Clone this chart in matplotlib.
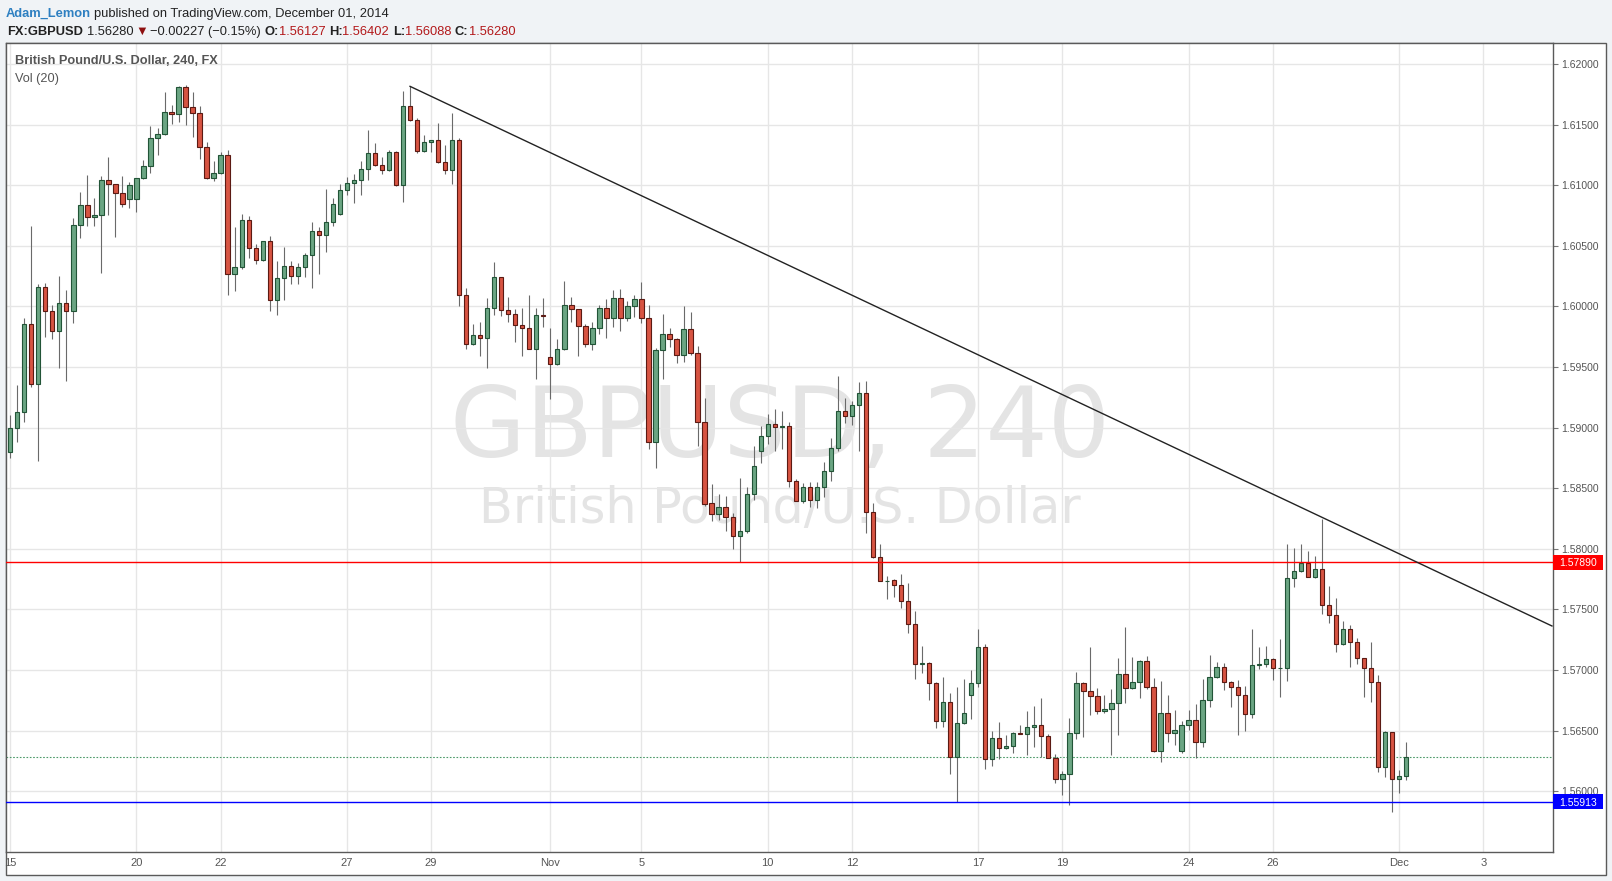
import matplotlib
matplotlib.use('Agg')
import matplotlib.pyplot as plt
from matplotlib.patches import Rectangle
from matplotlib.transforms import blended_transform_factory
import numpy as np

W, H = 1612, 881

# GBPUSD 4h candles, Oct 15 - Dec 1 2014
opens = [
    1.58802, 1.58994, 1.59126, 1.59852, 1.59357, 1.60157, 1.59959, 1.59794, 1.60025, 1.59959,
    1.60669, 1.60834, 1.60735, 1.60754, 1.61040, 1.61007, 1.60933, 1.60883, 1.60883, 1.61057,
    1.61156, 1.61387, 1.61420, 1.61601, 1.61585, 1.61807, 1.61643, 1.61593, 1.61313, 1.61057,
    1.61098, 1.61246, 1.60265, 1.60322, 1.60710, 1.60479, 1.60380, 1.60537, 1.60050, 1.60232,
    1.60331, 1.60248, 1.60322, 1.60421, 1.60619, 1.60586, 1.60694, 1.60760, 1.60958, 1.61015,
    1.61040, 1.61131, 1.61263, 1.61164, 1.61123, 1.61271, 1.60999, 1.61651, 1.61541, 1.61279,
    1.61354, 1.61370, 1.61189, 1.61123, 1.61370, 1.60091, 1.59693, 1.59767, 1.59742, 1.59984,
    1.60240, 1.59967, 1.59934, 1.59843, 1.59819, 1.59651, 1.59926, 1.59579, 1.59522, 1.59645,
    1.60008, 1.59975, 1.59835, 1.59687, 1.59819, 1.59984, 1.59901, 1.60066, 1.59901, 1.60000,
    1.60058, 1.59901, 1.58878, 1.59637, 1.59769, 1.59728, 1.59596, 1.59810, 1.59612, 1.59043,
    1.58375, 1.58284, 1.58342, 1.58259, 1.58103, 1.58144, 1.58449, 1.58804, 1.58928, 1.59029,
    1.59002, 1.59010, 1.58556, 1.58391, 1.58507, 1.58400, 1.58507, 1.58639, 1.58829, 1.59134,
    1.59093, 1.59183, 1.59282, 1.58301, 1.57929, 1.57732, 1.57743, 1.57699, 1.57567, 1.57377,
    1.57053, 1.57061, 1.56890, 1.56577, 1.56734, 1.56285, 1.56560, 1.56791, 1.56890, 1.57188,
    1.56263, 1.56436, 1.56354, 1.56370, 1.56477, 1.56472, 1.56527, 1.56543, 1.56453, 1.56277,
    1.56098, 1.56139, 1.56477, 1.56890, 1.56824, 1.56788, 1.56659, 1.56675, 1.56725, 1.56964,
    1.56849, 1.56898, 1.57071, 1.56857, 1.56334, 1.56642, 1.56477, 1.56329, 1.56543, 1.56585,
    1.56403, 1.56750, 1.56939, 1.57022, 1.56898, 1.56857, 1.56791, 1.56634, 1.57038, 1.57047,
    1.57088, 1.57014, 1.57016, 1.57756, 1.57814, 1.57880, 1.57765, 1.57830, 1.57533, 1.57451,
    1.57212, 1.57335, 1.57228, 1.57096, 1.57014, 1.56898, 1.56197, 1.56490, 1.56098, 1.56127,
]
highs = [
    1.59104, 1.59352, 1.59907, 1.60663, 1.60185, 1.60193, 1.60009, 1.60251, 1.60135, 1.60729,
    1.60944, 1.61084, 1.60894, 1.61076, 1.61233, 1.61007, 1.61076, 1.61026, 1.61060, 1.61208,
    1.61488, 1.61472, 1.61769, 1.61662, 1.61818, 1.61824, 1.61769, 1.61653, 1.61356, 1.61200,
    1.61274, 1.61290, 1.60658, 1.60763, 1.60749, 1.60515, 1.60540, 1.60581, 1.60375, 1.60490,
    1.60375, 1.60358, 1.60441, 1.60696, 1.60653, 1.60969, 1.60894, 1.61007, 1.61065, 1.61093,
    1.61200, 1.61455, 1.61348, 1.61230, 1.61290, 1.61282, 1.61777, 1.61816, 1.61552, 1.61411,
    1.61375, 1.61513, 1.61329, 1.61596, 1.61387, 1.60149, 1.59855, 1.59871, 1.60072, 1.60364,
    1.60245, 1.60077, 1.59975, 1.59987, 1.60094, 1.59987, 1.60066, 1.59821, 1.59728, 1.60209,
    1.60077, 1.59980, 1.59855, 1.59871, 1.60011, 1.60061, 1.60135, 1.60143, 1.60041, 1.60094,
    1.60201, 1.60011, 1.59654, 1.59937, 1.59819, 1.59736, 1.60003, 1.59953, 1.59670, 1.59241,
    1.58534, 1.58452, 1.58436, 1.58293, 1.58584, 1.58510, 1.58845, 1.59010, 1.59112, 1.59153,
    1.59137, 1.59046, 1.58573, 1.58540, 1.58548, 1.58548, 1.58713, 1.58911, 1.59425, 1.59241,
    1.59216, 1.59373, 1.59382, 1.58375, 1.58040, 1.57776, 1.57751, 1.57792, 1.57718, 1.57484,
    1.57198, 1.57069, 1.56901, 1.56943, 1.56811, 1.56860, 1.56926, 1.57000, 1.57341, 1.57212,
    1.56500, 1.56568, 1.56461, 1.56491, 1.56546, 1.56662, 1.56703, 1.56769, 1.56470, 1.56304,
    1.56167, 1.56604, 1.56983, 1.56904, 1.57190, 1.56849, 1.56791, 1.56843, 1.57096, 1.57355,
    1.57107, 1.57083, 1.57115, 1.56931, 1.56909, 1.56791, 1.56667, 1.56579, 1.56667, 1.56720,
    1.56923, 1.57124, 1.57066, 1.57058, 1.56907, 1.56915, 1.56865, 1.57338, 1.57190, 1.57198,
    1.57096, 1.57253, 1.58039, 1.58004, 1.58039, 1.57979, 1.57940, 1.58243, 1.57690, 1.57591,
    1.57401, 1.57369, 1.57261, 1.57100, 1.57228, 1.56956, 1.56494, 1.56490, 1.56172, 1.56402,
]
lows = [
    1.58752, 1.58884, 1.59049, 1.59338, 1.58727, 1.59750, 1.59734, 1.59495, 1.59387, 1.59866,
    1.60567, 1.60666, 1.60666, 1.60278, 1.60752, 1.60575, 1.60823, 1.60815, 1.60782, 1.61050,
    1.61103, 1.61252, 1.61415, 1.61505, 1.61521, 1.61494, 1.61400, 1.61219, 1.61050, 1.61037,
    1.61093, 1.60097, 1.60130, 1.60306, 1.60402, 1.60347, 1.60375, 1.59965, 1.59932, 1.60056,
    1.60188, 1.60188, 1.60246, 1.60155, 1.60270, 1.60446, 1.60666, 1.60755, 1.60922, 1.60856,
    1.60922, 1.61046, 1.61160, 1.61093, 1.61115, 1.60995, 1.60864, 1.61533, 1.61263, 1.61271,
    1.61271, 1.61185, 1.61095, 1.61013, 1.60006, 1.59651, 1.59684, 1.59594, 1.59495, 1.59932,
    1.59923, 1.59874, 1.59709, 1.59593, 1.59645, 1.59403, 1.59832, 1.59238, 1.59514, 1.59640,
    1.59874, 1.59593, 1.59668, 1.59637, 1.59769, 1.59736, 1.59832, 1.59794, 1.59882, 1.59910,
    1.59860, 1.58823, 1.58669, 1.59403, 1.59668, 1.59530, 1.59538, 1.59596, 1.58851, 1.58356,
    1.58229, 1.58238, 1.58149, 1.58001, 1.57891, 1.58128, 1.58400, 1.58705, 1.58862, 1.58804,
    1.58820, 1.58507, 1.58391, 1.58375, 1.58342, 1.58334, 1.58425, 1.58556, 1.58804, 1.59035,
    1.59019, 1.58804, 1.58128, 1.57921, 1.57732, 1.57583, 1.57600, 1.57515, 1.57308, 1.56923,
    1.56978, 1.56756, 1.56525, 1.56533, 1.56145, 1.55913, 1.56555, 1.56593, 1.56863, 1.56181,
    1.56206, 1.56263, 1.56346, 1.56318, 1.56470, 1.56301, 1.56367, 1.56285, 1.56277, 1.56070,
    1.55971, 1.55883, 1.56433, 1.56450, 1.56631, 1.56640, 1.56643, 1.56301, 1.56466, 1.56725,
    1.56845, 1.56772, 1.56840, 1.56326, 1.56244, 1.56409, 1.56381, 1.56318, 1.56502, 1.56277,
    1.56362, 1.56697, 1.56935, 1.56838, 1.56697, 1.56466, 1.56499, 1.56607, 1.57011, 1.57022,
    1.56915, 1.56774, 1.56907, 1.57682, 1.57810, 1.57765, 1.57760, 1.57459, 1.57385, 1.57151,
    1.57210, 1.57027, 1.57047, 1.56780, 1.56739, 1.56161, 1.56120, 1.55831, 1.55982, 1.56088,
]
closes = [
    1.58994, 1.59126, 1.59852, 1.59357, 1.60157, 1.59959, 1.59794, 1.60025, 1.59959, 1.60669,
    1.60834, 1.60735, 1.60754, 1.61040, 1.61007, 1.60933, 1.60842, 1.60999, 1.61057, 1.61156,
    1.61387, 1.61420, 1.61601, 1.61585, 1.61807, 1.61643, 1.61593, 1.61313, 1.61057, 1.61098,
    1.61246, 1.60265, 1.60322, 1.60710, 1.60479, 1.60380, 1.60537, 1.60050, 1.60232, 1.60331,
    1.60248, 1.60322, 1.60421, 1.60619, 1.60586, 1.60694, 1.60842, 1.60958, 1.61015, 1.61040,
    1.61131, 1.61263, 1.61164, 1.61123, 1.61271, 1.60999, 1.61651, 1.61541, 1.61279, 1.61354,
    1.61370, 1.61189, 1.61123, 1.61370, 1.60091, 1.59693, 1.59767, 1.59742, 1.59984, 1.60240,
    1.59967, 1.59934, 1.59843, 1.59819, 1.59651, 1.59926, 1.59920, 1.59522, 1.59645, 1.60008,
    1.59975, 1.59835, 1.59687, 1.59819, 1.59984, 1.59901, 1.60066, 1.59901, 1.60000, 1.60058,
    1.59901, 1.58878, 1.59637, 1.59769, 1.59728, 1.59596, 1.59810, 1.59612, 1.59043, 1.58369,
    1.58284, 1.58342, 1.58259, 1.58103, 1.58144, 1.58449, 1.58680, 1.58928, 1.59029, 1.59002,
    1.59010, 1.58556, 1.58391, 1.58507, 1.58400, 1.58507, 1.58639, 1.58829, 1.59134, 1.59093,
    1.59183, 1.59282, 1.58301, 1.57929, 1.57732, 1.57738, 1.57699, 1.57567, 1.57377, 1.57053,
    1.57061, 1.56890, 1.56577, 1.56734, 1.56285, 1.56560, 1.56643, 1.56890, 1.57188, 1.56263,
    1.56437, 1.56354, 1.56370, 1.56477, 1.56472, 1.56527, 1.56543, 1.56453, 1.56277, 1.56098,
    1.56139, 1.56477, 1.56890, 1.56824, 1.56788, 1.56659, 1.56675, 1.56725, 1.56964, 1.56849,
    1.56898, 1.57071, 1.56857, 1.56334, 1.56642, 1.56477, 1.56502, 1.56543, 1.56585, 1.56403,
    1.56750, 1.56939, 1.57022, 1.56898, 1.56857, 1.56791, 1.56634, 1.57038, 1.57047, 1.57088,
    1.57014, 1.57016, 1.57756, 1.57814, 1.57880, 1.57765, 1.57830, 1.57533, 1.57451, 1.57212,
    1.57335, 1.57228, 1.57096, 1.57014, 1.56898, 1.56197, 1.56490, 1.56098, 1.56127, 1.56280,
]

date_pos = [0, 18, 30, 48, 60, 77, 90, 108, 120, 138, 150, 168, 180, 198, 210]
date_labels = ['15', '20', '22', '27', '29', 'Nov', '5', '10', '12', '17', '19', '24', '26', 'Dec', '3']
price_ticks = [1.560, 1.565, 1.570, 1.575, 1.580, 1.585, 1.590, 1.595, 1.600, 1.605, 1.610, 1.615, 1.620]

resistance = 1.57890
support = 1.55913
last_close = 1.56280
trend_x = [57, 219.8]
trend_y = [1.61816, 1.57363]

plt.rcParams['font.family'] = ['Liberation Sans', 'DejaVu Sans']

fig = plt.figure(figsize=(W / 100, H / 100), dpi=100, facecolor='#f0f3f6')
fig.patches.append(Rectangle((6 / W, 1 - 875 / H), 1600 / W, 832 / H, transform=fig.transFigure,
                             fc='white', ec='#5a5a5a', lw=1, zorder=-10))

ax_h = 808.8
ax = fig.add_axes([6 / W, 1 - 852 / H, 1547 / W, ax_h / H])
ax.set_facecolor('white')
ax.set_xlim(-0.6, 219.95)
ax.set_ylim(1.55498, 1.62172)
for s in ax.spines.values():
    s.set_color('#5a5a5a')
    s.set_linewidth(1)

ax.grid(True, color='#e6e6e6', lw=1, zorder=0)
ax.set_axisbelow(True)

# watermark
ax.text(0.5003, 0.4885, 'GBPUSD, 240', transform=ax.transAxes, ha='center', va='baseline',
        fontsize=70.5, color='#e4e4e4', family='DejaVu Sans', zorder=0.5)
ax.text(0.5003, 0.407, 'British Pound/U.S. Dollar', transform=ax.transAxes, ha='center', va='baseline',
        fontsize=35.5, color='#e4e4e4', family='DejaVu Sans', zorder=0.5)

o = np.array(opens)
h = np.array(highs)
l = np.array(lows)
c = np.array(closes)
idx = np.arange(len(o))
up = c >= o
body_lo = np.minimum(o, c)
body_h = np.maximum(np.abs(c - o), 0.00004)

ax.vlines(idx, l, h, color='#6a6a6a', lw=0.8, zorder=2)
ax.bar(idx[up], body_h[up], bottom=body_lo[up], width=0.62, color='#6ba583',
       edgecolor='#225437', lw=0.8, zorder=3)
ax.bar(idx[~up], body_h[~up], bottom=body_lo[~up], width=0.62, color='#d75442',
       edgecolor='#5b1a13', lw=0.8, zorder=3)

ax.axhline(resistance, color='#ff0000', lw=1, zorder=4)
ax.axhline(support, color='#0000ff', lw=1, zorder=4)
ax.axhline(last_close, color='#4c9a6a', lw=0.8, ls=(0, (1.5, 1.5)), zorder=1)
ax.plot(trend_x, trend_y, color='#222222', lw=1, zorder=5)

ax.set_xticks(date_pos, date_labels)
ax.tick_params(axis='x', length=0, pad=4, labelsize=8, labelcolor='#555555')
ax.yaxis.tick_right()
ax.set_yticks(price_ticks, [f'{v:.5f}' for v in price_ticks])
ax.tick_params(axis='y', length=3.5, width=0.8, color='#777777', pad=2.5, labelsize=7.5,
               labelcolor='#555555')

# price labels on the scale for the two horizontal levels
tr = blended_transform_factory(ax.transAxes, ax.transData)
y0, y1 = ax.get_ylim()
box_h = (y1 - y0) * 15 / ax_h
for val, col in [(resistance, '#ff0000'), (support, '#0000ff')]:
    ax.add_patch(Rectangle((1.0, val - box_h / 2), 50 / 1547, box_h, transform=tr, fc=col, ec='none',
                           clip_on=False, zorder=6))
    ax.text(1.0 + 6.5 / 1547, val, f'{val:.5f}', transform=tr, ha='left', va='center_baseline',
            fontsize=7.5, color='white', zorder=7, clip_on=False)

# legend in chart
fig.text(14.7 / W, 1 - 64.3 / H, 'British Pound/U.S. Dollar, 240, FX', fontsize=9.2,
         fontweight='bold', color='#555555', va='baseline')
fig.text(14.7 / W, 1 - 81.7 / H, 'Vol (20)', fontsize=9.2, color='#555555', va='baseline')

# header
renderer = fig.canvas.get_renderer()


def put_run(x, y, pieces, size):
    for txt, color, weight, gap in pieces:
        t = fig.text(x / W, 1 - y / H, txt, color=color, fontsize=size, fontweight=weight,
                     va='baseline', ha='left')
        x += t.get_window_extent(renderer=renderer).width + gap


red = '#b3191b'
dark = '#222222'
put_run(6, 16.7, [('Adam_Lemon', '#2d7fc1', 'bold', 3.5),
                  ('published on TradingView.com, December 01, 2014', dark, 'normal', 0)], 9.25)
put_run(6.7, 34.7, [('FX:GBPUSD', dark, 'bold', 4), ('1.56280', dark, 'normal', 2.5),
                    ('\u25bc', '#8e1010', 'normal', 1.5), ('\u22120.00227 (\u22120.15%)', dark, 'normal', 3.5),
                    ('O:', dark, 'bold', 0), ('1.56127', red, 'normal', 3.5),
                    ('H:', dark, 'bold', 0), ('1.56402', red, 'normal', 3.5),
                    ('L:', dark, 'bold', 0), ('1.56088', red, 'normal', 3.5),
                    ('C:', dark, 'bold', 0), ('1.56280', red, 'normal', 0)], 9.25)

fig.savefig('out.png', dpi=100, facecolor=fig.get_facecolor())
